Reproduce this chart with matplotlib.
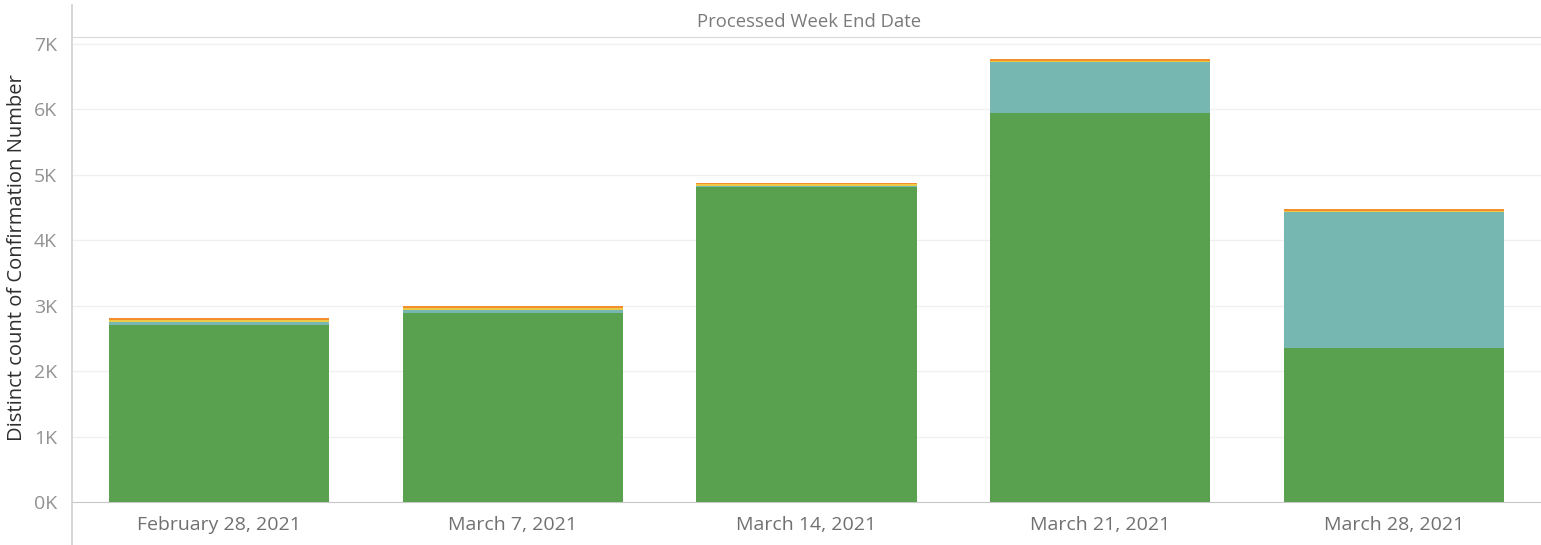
import matplotlib
matplotlib.use("Agg")
import matplotlib.pyplot as plt
import numpy as np
from matplotlib.lines import Line2D

matplotlib.rcParams["font.family"] = ["Open Sans", "DejaVu Sans"]

# ── Data ──────────────────────────────────────────────────────────────────────
WEEKS   = ["February 28, 2021", "March 7, 2021", "March 14, 2021",
           "March 21, 2021", "March 28, 2021"]
GREEN   = [2710, 2890, 4820, 5945, 2360]
TEAL    = [45, 45, 5, 780, 2070]
YELLOW  = [30, 30, 30, 15, 15]
ORANGE  = [25, 25, 25, 25, 35]

SERIES  = [(GREEN, "#59A14F"), (TEAL, "#76B7B2"),
           (YELLOW, "#EDC948"), (ORANGE, "#F28E2B")]

W, H = 1541, 545

# ── Figure ────────────────────────────────────────────────────────────────────
fig = plt.figure(figsize=(W / 100, H / 100), dpi=100)
# plot area: x 72..1541, y 37..502 (pixels from top)
ax = fig.add_axes([72 / W, (H - 502) / H, 1 - 72 / W, (502 - 37) / H])

x = np.arange(len(WEEKS))
bottom = np.zeros(len(WEEKS))
for vals, col in SERIES:
    ax.bar(x, vals, width=0.75, bottom=bottom, color=col, linewidth=0, zorder=3)
    bottom += np.array(vals)

ax.set_xlim(-0.5, len(WEEKS) - 0.5)
ax.set_ylim(0, 7000 * (502 - 37) / (502 - 44))
ax.set_yticks(np.arange(0, 8000, 1000))
ax.set_yticklabels([f"{v // 1000}K" for v in range(0, 8000, 1000)])
ax.set_xticks(x)
ax.set_xticklabels(WEEKS)

ax.tick_params(axis="y", length=0, pad=11, labelsize=14, labelcolor="#929292")
ax.tick_params(axis="x", length=0, pad=10, labelsize=14, labelcolor="#707070")
ax.grid(axis="y", color="#f0f0f0", linewidth=1, zorder=0)

for side in ["left", "right"]:
    ax.spines[side].set_visible(False)
ax.spines["bottom"].set_color("#c8c8c8")
ax.spines["top"].set_color("#d9d9d9")

# y axis title
fig.text(17 / W, 1 - 258 / H, "Distinct count of Confirmation Number",
         rotation=90, ha="center", va="center", fontsize=14.5, color="#2e2e2e")

# Header band and left divider
fig.text(809 / W, 1 - 22 / H, "Processed Week End Date",
         ha="center", va="center", fontsize=13.3, color="#7a7a7a")
fig.add_artist(Line2D([72 / W, 72 / W], [0, 1 - 5 / H],
                      transform=fig.transFigure, color="#d0d0d0", linewidth=1.2))

fig.savefig("out.png", dpi=100, facecolor="white")
